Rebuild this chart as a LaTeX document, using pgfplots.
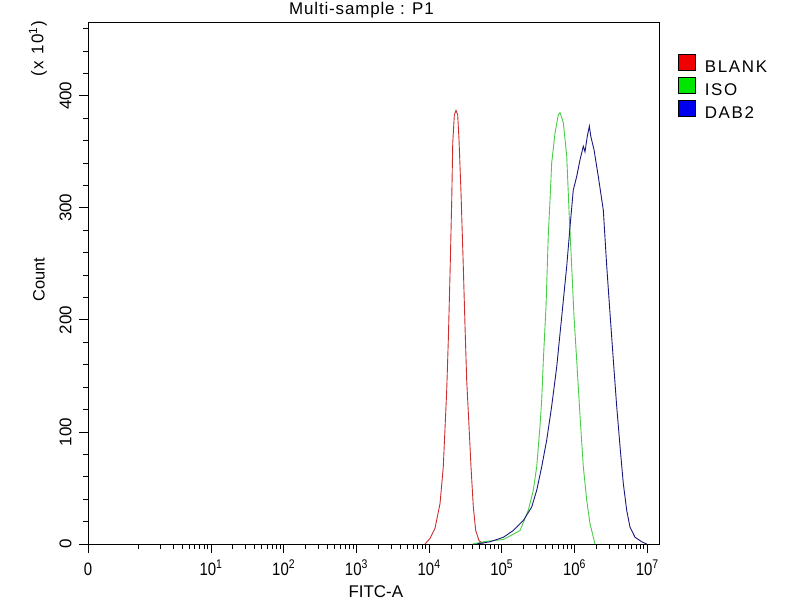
\documentclass[border=0pt]{standalone}
\usepackage{pgfplots}
\usepackage{pgfplotstable}
\pgfplotsset{compat=1.18}
\usepackage{fontspec}
\setmainfont{Liberation Sans}
\newfontfamily\legfont{Liberation Sans}[LetterSpace=10]
\newfontfamily\titfont{Liberation Sans}[LetterSpace=5]

\definecolor{cblank}{RGB}{205,45,45}
\definecolor{ciso}{RGB}{70,205,70}
\definecolor{cdab}{RGB}{25,25,125}
\definecolor{lblank}{RGB}{240,0,0}
\definecolor{liso}{RGB}{0,230,0}
\definecolor{ldab}{RGB}{0,0,240}

% x = log10(FITC-A), y = count (x 10)
\pgfplotstableread{
u c
3.944 0
4.012 5
4.081 14
4.150 36
4.195 69
4.242 137
4.264 182
4.288 242
4.311 307
4.325 358
4.347 383
4.370 387
4.393 383
4.411 361
4.439 313
4.470 248
4.494 194
4.517 146
4.549 105
4.576 69
4.608 33
4.641 12
4.686 3
4.746 0
}\blank

\pgfplotstableread{
u c
4.600 0
4.746 2
5.021 4
5.250 12
5.364 30
5.433 48
5.480 69
5.525 105
5.549 129
5.571 164
5.608 212
5.640 277
5.663 307
5.686 340
5.732 367
5.777 383
5.801 385
5.846 376
5.893 346
5.928 292
5.961 248
5.993 203
6.030 164
6.076 114
6.121 69
6.168 39
6.213 18
6.282 0
}\iso

\pgfplotstableread{
u c
4.655 0
4.838 2
5.021 6
5.158 12
5.296 21
5.411 33
5.480 48
5.549 69
5.618 93
5.686 123
5.755 158
5.824 203
5.893 248
5.938 283
5.983 316
6.030 328
6.076 343
6.121 355
6.144 350
6.176 364
6.204 373
6.223 364
6.268 352
6.327 328
6.396 298
6.443 248
6.488 206
6.534 164
6.580 123
6.626 87
6.671 54
6.718 30
6.763 15
6.832 6
6.924 2
6.993 0
}\dab

\begin{document}
\begin{tikzpicture}
\begin{axis}[
  at={(88bp,56bp)}, anchor=south west,
  scale only axis, width=571bp, height=521bp,
  xmin=-0.692, xmax=7.162, ymin=0, ymax=465,
  clip=false,
  axis line style={line width=1bp},
  tick align=outside, tick pos=left,
  major tick length=9bp, minor tick length=5bp,
  every tick/.style={black, line width=0.9bp},
  xtick={-0.692,1,2,3,4,5,6,7},
  xticklabels={0,10\textsuperscript{1},10\textsuperscript{2},10\textsuperscript{3},10\textsuperscript{4},10\textsuperscript{5},10\textsuperscript{6},10\textsuperscript{7}},
  minor xtick={0,0.301,0.477,0.602,0.699,0.778,0.845,0.903,0.954,
    1.301,1.477,1.602,1.699,1.778,1.845,1.903,1.954,
    2.301,2.477,2.602,2.699,2.778,2.845,2.903,2.954,
    3.301,3.477,3.602,3.699,3.778,3.845,3.903,3.954,
    4.301,4.477,4.602,4.699,4.778,4.845,4.903,4.954,
    5.301,5.477,5.602,5.699,5.778,5.845,5.903,5.954,
    6.301,6.477,6.602,6.699,6.778,6.845,6.903,6.954},
  ytick={0,100,200,300,400},
  yticklabels={0,100,200,300,400},
  minor ytick={20,40,...,460},
  xticklabel style={font=\fontsize{15}{15}\selectfont, anchor=base, yscale=1.2},
  xticklabel shift=22bp,
  yticklabel style={font=\fontsize{17}{17}\selectfont, rotate=90, anchor=south},
  yticklabel shift=4bp,
  xlabel={FITC-A},
  ylabel={Count},
  xlabel style={font=\fontsize{17}{17}\selectfont, at={(axis description cs:0.504,0)}, anchor=base, yshift=-53bp},
  ylabel style={font=\fontsize{16.5}{16.5}\selectfont, at={(axis description cs:-0.0858,0.507)}, anchor=center},
  title={Multi-sample : P1},
  title style={font=\titfont\fontsize{17}{17}\selectfont, at={(axis description cs:0.479,1)}, anchor=base, yshift=3bp},
  legend style={at={(1.0333,0.9413)}, anchor=north west, draw=none, fill=none,
    font=\legfont\fontsize{17}{17}\selectfont, row sep=1bp, inner sep=0pt,
    /tikz/every odd column/.append style={column sep=7bp}},
  legend cell align=left,
]
\addlegendimage{legend image code/.code={\draw[black, line width=0.6bp, fill=lblank] (0bp,-3bp) rectangle (17bp,13bp);}}
\addlegendentry{BLANK}
\addlegendimage{legend image code/.code={\draw[black, line width=0.6bp, fill=liso] (0bp,-3bp) rectangle (17bp,13bp);}}
\addlegendentry{ISO}
\addlegendimage{legend image code/.code={\draw[black, line width=0.6bp, fill=ldab] (0bp,-3bp) rectangle (17bp,13bp);}}
\addlegendentry{DAB2}

\addplot[cblank, line width=0.9bp, forget plot] table[x=u, y=c] {\blank};
\addplot[ciso, line width=0.9bp, forget plot] table[x=u, y=c] {\iso};
\addplot[cdab, line width=0.9bp, forget plot] table[x=u, y=c] {\dab};

\node[rotate=90, font=\legfont\fontsize{17}{17}\selectfont] at (axis description cs:-0.0876,0.95) {(x 10\textsuperscript{1})};
\end{axis}
\pgfresetboundingbox
\useasboundingbox (0,0) rectangle (800bp,600bp);
\end{tikzpicture}
\end{document}
